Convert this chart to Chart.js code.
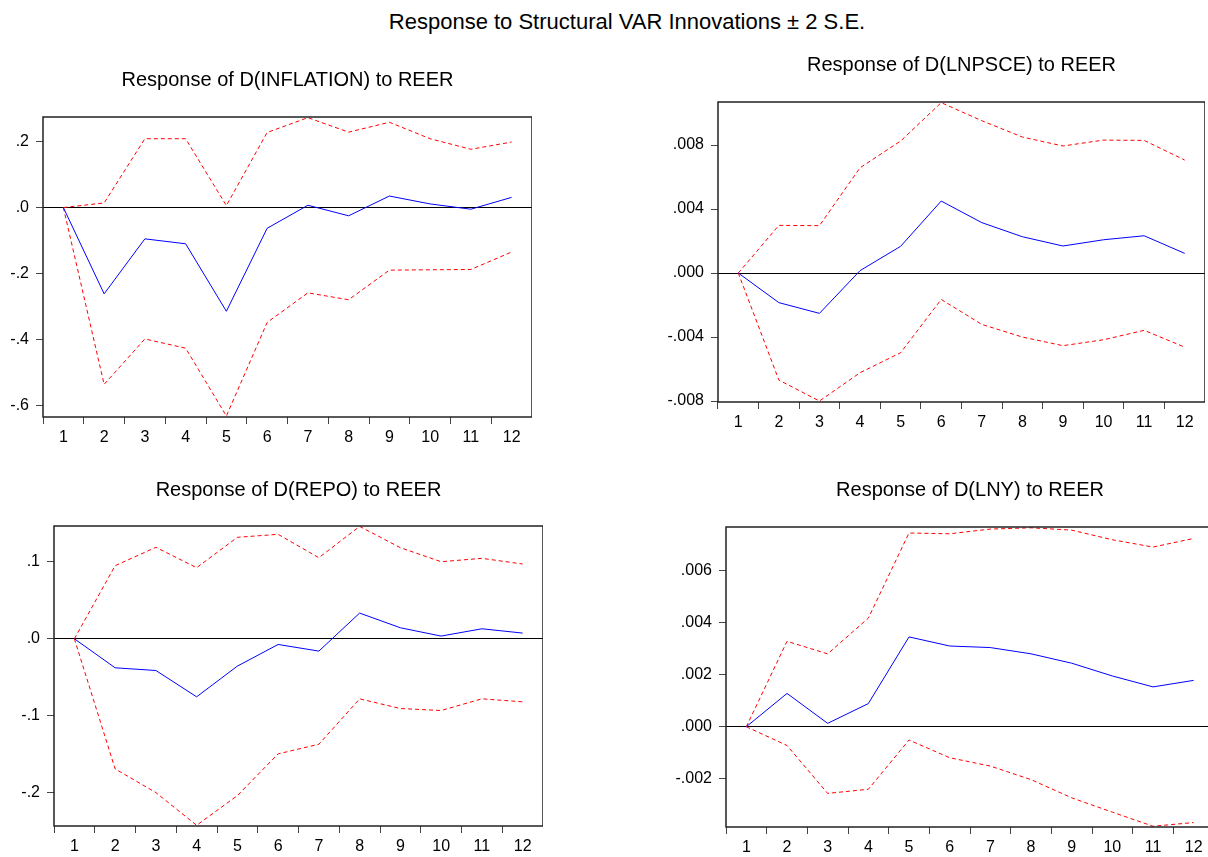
<!DOCTYPE html>
<html>
<head>
<meta charset="utf-8">
<title>Response to Structural VAR Innovations</title>
<script src="https://cdn.jsdelivr.net/npm/chart.js@4/dist/chart.umd.min.js"></script>
<style>
  html, body { margin: 0; padding: 0; background: #fff; width: 1208px; height: 857px; overflow: hidden; }
  #mainTitle {
    position: absolute; left: 327px; width: 600px; top: 9px;
    text-align: center; font: 22px/26px "Liberation Sans", Arial, sans-serif; color: #000;
  }
  canvas { position: absolute; }
</style>
</head>
<body>
<div id="mainTitle">Response to Structural VAR Innovations ± 2 S.E.</div>
<canvas id="c1"></canvas>
<canvas id="c2"></canvas>
<canvas id="c3"></canvas>
<canvas id="c4"></canvas>
<script>
// periods after the shock
const steps = ['1', '2', '3', '4', '5', '6', '7', '8', '9', '10', '11', '12'];

// D(INFLATION)
const inflationResp  = [0, -0.262, -0.095, -0.110, -0.315, -0.063, 0.007, -0.025, 0.035, 0.011, -0.005, 0.031];
const inflationUpper = [0, 0.014, 0.209, 0.209, 0.006, 0.228, 0.273, 0.229, 0.259, 0.209, 0.177, 0.199];
const inflationLower = [0, -0.537, -0.399, -0.427, -0.633, -0.349, -0.259, -0.280, -0.190, -0.189, -0.188, -0.135];
const inflationTicks = [0.2, 0, -0.2, -0.4, -0.6];
const inflationTickLabels = ['.2', '.0', '-.2', '-.4', '-.6'];

// D(LNPSCE)
const lnpsceResp  = [0, -0.00185, -0.00252, 0.00015, 0.00167, 0.0045, 0.00315, 0.00227, 0.00169, 0.00208, 0.00233, 0.00123];
const lnpsceUpper = [0, 0.00298, 0.00296, 0.00658, 0.00825, 0.01065, 0.00952, 0.0085, 0.00794, 0.00831, 0.00829, 0.00706];
const lnpsceLower = [0, -0.00669, -0.0080, -0.00623, -0.00498, -0.00165, -0.00321, -0.0040, -0.00454, -0.00417, -0.00358, -0.00463];
const lnpsceTicks = [0.008, 0.004, 0, -0.004, -0.008];
const lnpsceTickLabels = ['.008', '.004', '.000', '-.004', '-.008'];

// D(REPO)
const repoResp  = [0, -0.0377, -0.0412, -0.0754, -0.0355, -0.0074, -0.016, 0.0334, 0.0143, 0.0035, 0.013, 0.0074];
const repoUpper = [0, 0.0949, 0.1188, 0.0923, 0.1318, 0.1357, 0.1053, 0.146, 0.1183, 0.1001, 0.1045, 0.0971];
const repoLower = [0, -0.169, -0.1998, -0.2423, -0.2037, -0.1495, -0.137, -0.078, -0.0906, -0.0932, -0.078, -0.0819];
const repoTicks = [0.1, 0, -0.1, -0.2];
const repoTickLabels = ['.1', '.0', '-.1', '-.2'];

// D(LNY)
const lnyResp  = [0, 0.00128, 0.00013, 0.00089, 0.00345, 0.0031, 0.00304, 0.0028, 0.00244, 0.00195, 0.00153, 0.00178];
const lnyUpper = [0, 0.00328, 0.0028, 0.00417, 0.00744, 0.00741, 0.00759, 0.00764, 0.00755, 0.00718, 0.0069, 0.00723];
const lnyLower = [0, -0.00072, -0.00256, -0.0024, -0.00051, -0.00119, -0.00151, -0.00203, -0.00273, -0.00328, -0.00382, -0.00368];
const lnyTicks = [0.006, 0.004, 0.002, 0, -0.002];
const lnyTickLabels = ['.006', '.004', '.002', '.000', '-.002'];

const FONT = '"Liberation Sans", Arial, sans-serif';
const TITLE_SIZE = 20;
const X_AXIS_H = 35;

// frame around the plot area
const framePlugin = {
  id: 'frame',
  afterDraw(chart) {
    const { ctx, chartArea: a } = chart;
    ctx.save();
    ctx.strokeStyle = '#222';
    ctx.lineWidth = 1.5;
    ctx.strokeRect(a.left, a.top, a.right - a.left, a.bottom - a.top);
    ctx.restore();
  }
};

function makePanel(id, box, titleY, title, resp, upper, lower, yMin, yMax, ticks, tickLabels) {
  const canvas = document.getElementById(id);
  const half = TITLE_SIZE * 1.2 / 2;
  const top = titleY - half - 4;
  const yAxisW = box.l - box.cl;
  const w = yAxisW + (box.r - box.l) + 2;
  const h = (box.b - top) + X_AXIS_H;
  canvas.width = w; canvas.height = h;
  canvas.style.left = box.cl + 'px';
  canvas.style.top = top + 'px';
  canvas.style.width = w + 'px';
  canvas.style.height = h + 'px';

  return new Chart(canvas, {
    type: 'line',
    data: {
      labels: steps,
      datasets: [
        { data: resp, borderColor: '#0000ff', borderWidth: 1 },
        { data: upper, borderColor: '#ff0000', borderWidth: 1, borderDash: [4, 3] },
        { data: lower, borderColor: '#ff0000', borderWidth: 1, borderDash: [4, 3] }
      ]
    },
    options: {
      responsive: false,
      animation: false,
      devicePixelRatio: 1,
      layout: { padding: 0 },
      elements: { point: { radius: 0 }, line: { tension: 0 } },
      plugins: {
        legend: { display: false },
        tooltip: { enabled: false },
        title: {
          display: true,
          text: title,
          fullSize: false,
          color: '#000',
          font: { family: FONT, size: TITLE_SIZE, weight: 'normal' },
          padding: { top: 4, bottom: box.t - titleY - half }
        }
      },
      scales: {
        x: {
          offset: true,
          afterFit: s => { s.height = X_AXIS_H; },
          grid: { offset: true, drawOnChartArea: false, tickLength: 7, tickColor: '#444' },
          border: { display: false },
          ticks: { color: '#000', padding: 4, maxRotation: 0, autoSkip: false, font: { family: FONT, size: 16 } }
        },
        y: {
          min: yMin,
          max: yMax,
          afterFit: s => { s.width = yAxisW; },
          afterBuildTicks: s => { s.ticks = ticks.map(v => ({ value: v })); },
          grid: {
            color: c => (c.tick && c.tick.value === 0 ? '#000' : 'rgba(0,0,0,0)'),
            tickColor: '#444',
            tickLength: 7
          },
          border: { display: false },
          ticks: {
            color: '#000',
            padding: 7,
            font: { family: FONT, size: 16 },
            callback: (v) => tickLabels[ticks.indexOf(v)]
          }
        }
      }
    },
    plugins: [framePlugin]
  });
}

makePanel('c1', { cl: 0, l: 43, r: 530, t: 117, b: 417 }, 80,
  'Response of D(INFLATION) to REER',
  inflationResp, inflationUpper, inflationLower, -0.636, 0.275, inflationTicks, inflationTickLabels);

makePanel('c2', { cl: 640, l: 718, r: 1203, t: 102, b: 402 }, 65,
  'Response of D(LNPSCE) to REER',
  lnpsceResp, lnpsceUpper, lnpsceLower, -0.00806, 0.01069, lnpsceTicks, lnpsceTickLabels);

makePanel('c3', { cl: 0, l: 54, r: 541, t: 526, b: 826 }, 490,
  'Response of D(REPO) to REER',
  repoResp, repoUpper, repoLower, -0.2432, 0.1465, repoTicks, repoTickLabels);

makePanel('c4', { cl: 640, l: 726, r: 1212, t: 527, b: 827 }, 490,
  'Response of D(LNY) to REER',
  lnyResp, lnyUpper, lnyLower, -0.00385, 0.00767, lnyTicks, lnyTickLabels);
</script>
</body>
</html>
